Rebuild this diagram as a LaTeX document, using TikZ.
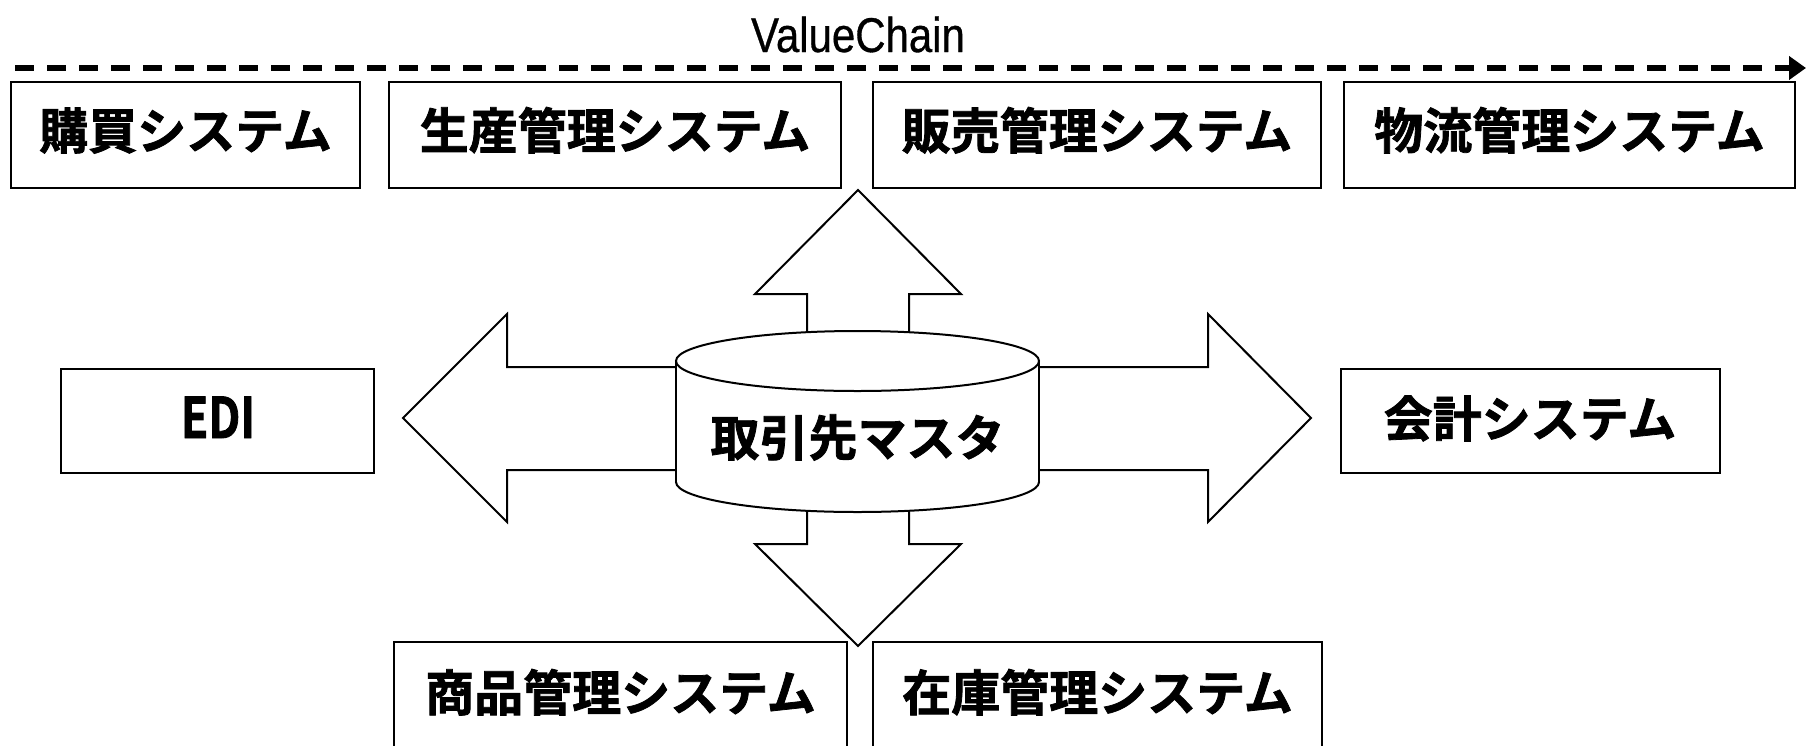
\documentclass[tikz,border=0pt]{standalone}
\usepackage{fontspec}
\setmainfont{Liberation Sans}
\newfontfamily\jp{Noto Sans CJK JP}[BoldFont=* Bold, BoldFeatures={FakeBold=1.6}]
\newfontfamily\vcfont{Liberation Sans}[FakeBold=0.7]
\usetikzlibrary{arrows.meta,fit}
\tikzset{
  sysbox/.style={draw, line width=1pt, inner sep=0pt},
  jptext/.style={font=\jp\bfseries\fontsize{24.5}{26}\selectfont, anchor=base, inner sep=0pt},
  blockarrow/.style={draw, line width=1pt, fill=white, line join=miter},
  cyl/.style={draw, line width=1pt, fill=white},
}
\begin{document}
\begin{tikzpicture}[x=0.5pt, y=-0.5pt]
\clip (0,0) rectangle (1806,745);
\fill[white] (0,0) rectangle (1806,745);

% Value chain arrow
\coordinate (vcStart) at (15,68);
\coordinate (vcEnd) at (1806,68);
\draw[line width=3.25pt, dash pattern=on 9.5pt off 6.5pt,
      -{Triangle[length=8.5pt,width=11.5pt]}] (vcStart) -- (vcEnd);
\node[font=\vcfont\fontsize{24.4}{26}\selectfont, anchor=base, inner sep=0pt] (vc) at (858,52) {\scalebox{0.86}[1]{ValueChain}};

% top boxes
\node[sysbox, fit={(11,82) (360,188)}] (kobai) {};
\node[sysbox, fit={(389,82) (841,188)}] (seisan) {};
\node[sysbox, fit={(873,82) (1321,188)}] (hanbai) {};
\node[sysbox, fit={(1344,82) (1795,188)}] (butsuryu) {};
\node[jptext] (kobaiT) at (185.5,149) {購買システム};
\node[jptext] (seisanT) at (615,149) {生産管理システム};
\node[jptext] (hanbaiT) at (1097,149) {販売管理システム};
\node[jptext] (butsuryuT) at (1569.5,149) {物流管理システム};

% side boxes
\node[sysbox, fit={(61,369) (374,473)}] (edi) {};
\node[font=\jp\bfseries\fontsize{28}{30}\selectfont, anchor=base, inner sep=0pt] (ediT) at (218,438) {\scalebox{0.8}[1]{EDI}};
\node[sysbox, fit={(1341,369) (1720,473)}] (kaikei) {};
\node[jptext] (kaikeiT) at (1530,437) {会計システム};

% bottom boxes
\node[sysbox, fit={(394,642) (847,770)}] (shohin) {};
\node[sysbox, fit={(873,642) (1322,770)}] (zaiko) {};
\node[jptext] (shohinT) at (620.5,711) {商品管理システム};
\node[jptext] (zaikoT) at (1097.5,711) {在庫管理システム};

% block arrows
\draw[blockarrow] (807,400) -- (807,294) -- (755,294) -- (858,190) -- (961,294) -- (909,294) -- (909,400) -- cycle;
\draw[blockarrow] (807,440) -- (807,544) -- (755,544) -- (858,646) -- (961,544) -- (909,544) -- (909,440) -- cycle;
\draw[blockarrow] (700,367) -- (507,367) -- (507,314) -- (403,418) -- (507,522) -- (507,470) -- (700,470) -- cycle;
\draw[blockarrow] (1000,367) -- (1208,367) -- (1208,314) -- (1311,418) -- (1208,522) -- (1208,470) -- (1000,470) -- cycle;

% cylinder
\draw[cyl] (857.5,482) ellipse (181.5 and 30);
\fill[white] (676,361) rectangle (1039,482);
\draw[line width=1pt] (676,361) -- (676,482) (1039,361) -- (1039,482);
\draw[cyl] (857.5,361) ellipse (181.5 and 30);
\node[jptext] (master) at (857.5,456) {取引先マスタ};
\end{tikzpicture}
\end{document}
